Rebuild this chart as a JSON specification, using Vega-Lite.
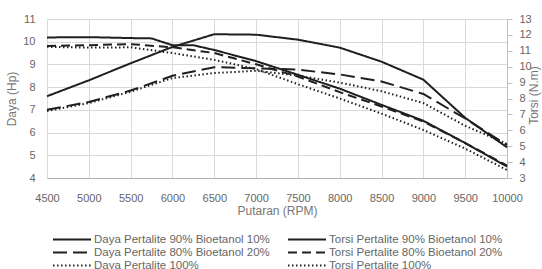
{
  "$schema": "https://vega.github.io/schema/vega-lite/v6.json",
  "width": 460,
  "height": 159,
  "autosize": {"type": "none"},
  "padding": {"left": 47, "top": 19, "right": 35, "bottom": 91},
  "config": {
    "font": "Liberation Sans",
    "view": {"stroke": null},
    "axis": {"labelColor": "#666666", "titleColor": "#777777", "labelFontSize": 11, "titleFontSize": 12, "titleFontWeight": "normal", "gridColor": "#d9d9d9", "domainColor": "#bfbfbf", "tickColor": "#bfbfbf"}
  },
  "data": {"values": [
    {"rpm": 4500, "v": 7.6, "s": "Daya Pertalite 90% Bioetanol 10%", "m": "Daya"},
    {"rpm": 5000, "v": 8.3, "s": "Daya Pertalite 90% Bioetanol 10%", "m": "Daya"},
    {"rpm": 5500, "v": 9.05, "s": "Daya Pertalite 90% Bioetanol 10%", "m": "Daya"},
    {"rpm": 6000, "v": 9.77, "s": "Daya Pertalite 90% Bioetanol 10%", "m": "Daya"},
    {"rpm": 6500, "v": 10.33, "s": "Daya Pertalite 90% Bioetanol 10%", "m": "Daya"},
    {"rpm": 7000, "v": 10.31, "s": "Daya Pertalite 90% Bioetanol 10%", "m": "Daya"},
    {"rpm": 7500, "v": 10.09, "s": "Daya Pertalite 90% Bioetanol 10%", "m": "Daya"},
    {"rpm": 8000, "v": 9.74, "s": "Daya Pertalite 90% Bioetanol 10%", "m": "Daya"},
    {"rpm": 8500, "v": 9.12, "s": "Daya Pertalite 90% Bioetanol 10%", "m": "Daya"},
    {"rpm": 9000, "v": 8.33, "s": "Daya Pertalite 90% Bioetanol 10%", "m": "Daya"},
    {"rpm": 9500, "v": 6.65, "s": "Daya Pertalite 90% Bioetanol 10%", "m": "Daya"},
    {"rpm": 10000, "v": 5.35, "s": "Daya Pertalite 90% Bioetanol 10%", "m": "Daya"},
    {"rpm": 4500, "v": 7.0, "s": "Daya Pertalite 80% Bioetanol 20%", "m": "Daya"},
    {"rpm": 5000, "v": 7.35, "s": "Daya Pertalite 80% Bioetanol 20%", "m": "Daya"},
    {"rpm": 5500, "v": 7.85, "s": "Daya Pertalite 80% Bioetanol 20%", "m": "Daya"},
    {"rpm": 6000, "v": 8.5, "s": "Daya Pertalite 80% Bioetanol 20%", "m": "Daya"},
    {"rpm": 6500, "v": 8.88, "s": "Daya Pertalite 80% Bioetanol 20%", "m": "Daya"},
    {"rpm": 7000, "v": 8.83, "s": "Daya Pertalite 80% Bioetanol 20%", "m": "Daya"},
    {"rpm": 7500, "v": 8.77, "s": "Daya Pertalite 80% Bioetanol 20%", "m": "Daya"},
    {"rpm": 8000, "v": 8.56, "s": "Daya Pertalite 80% Bioetanol 20%", "m": "Daya"},
    {"rpm": 8500, "v": 8.25, "s": "Daya Pertalite 80% Bioetanol 20%", "m": "Daya"},
    {"rpm": 9000, "v": 7.7, "s": "Daya Pertalite 80% Bioetanol 20%", "m": "Daya"},
    {"rpm": 9500, "v": 6.62, "s": "Daya Pertalite 80% Bioetanol 20%", "m": "Daya"},
    {"rpm": 10000, "v": 5.45, "s": "Daya Pertalite 80% Bioetanol 20%", "m": "Daya"},
    {"rpm": 4500, "v": 6.95, "s": "Daya Pertalite 100%", "m": "Daya"},
    {"rpm": 5000, "v": 7.3, "s": "Daya Pertalite 100%", "m": "Daya"},
    {"rpm": 5500, "v": 7.8, "s": "Daya Pertalite 100%", "m": "Daya"},
    {"rpm": 6000, "v": 8.4, "s": "Daya Pertalite 100%", "m": "Daya"},
    {"rpm": 6500, "v": 8.62, "s": "Daya Pertalite 100%", "m": "Daya"},
    {"rpm": 7000, "v": 8.72, "s": "Daya Pertalite 100%", "m": "Daya"},
    {"rpm": 7500, "v": 8.51, "s": "Daya Pertalite 100%", "m": "Daya"},
    {"rpm": 8000, "v": 8.2, "s": "Daya Pertalite 100%", "m": "Daya"},
    {"rpm": 8500, "v": 7.82, "s": "Daya Pertalite 100%", "m": "Daya"},
    {"rpm": 9000, "v": 7.3, "s": "Daya Pertalite 100%", "m": "Daya"},
    {"rpm": 9500, "v": 6.3, "s": "Daya Pertalite 100%", "m": "Daya"},
    {"rpm": 10000, "v": 5.5, "s": "Daya Pertalite 100%", "m": "Daya"},
    {"rpm": 4500, "v": 11.84, "s": "Torsi Pertalite 90% Bioetanol 10%", "m": "Torsi"},
    {"rpm": 5000, "v": 11.86, "s": "Torsi Pertalite 90% Bioetanol 10%", "m": "Torsi"},
    {"rpm": 5500, "v": 11.8, "s": "Torsi Pertalite 90% Bioetanol 10%", "m": "Torsi"},
    {"rpm": 5750, "v": 11.78, "s": "Torsi Pertalite 90% Bioetanol 10%", "m": "Torsi"},
    {"rpm": 6000, "v": 11.35, "s": "Torsi Pertalite 90% Bioetanol 10%", "m": "Torsi"},
    {"rpm": 6250, "v": 11.35, "s": "Torsi Pertalite 90% Bioetanol 10%", "m": "Torsi"},
    {"rpm": 6500, "v": 11.05, "s": "Torsi Pertalite 90% Bioetanol 10%", "m": "Torsi"},
    {"rpm": 7000, "v": 10.35, "s": "Torsi Pertalite 90% Bioetanol 10%", "m": "Torsi"},
    {"rpm": 7500, "v": 9.49, "s": "Torsi Pertalite 90% Bioetanol 10%", "m": "Torsi"},
    {"rpm": 8000, "v": 8.62, "s": "Torsi Pertalite 90% Bioetanol 10%", "m": "Torsi"},
    {"rpm": 8500, "v": 7.6, "s": "Torsi Pertalite 90% Bioetanol 10%", "m": "Torsi"},
    {"rpm": 9000, "v": 6.6, "s": "Torsi Pertalite 90% Bioetanol 10%", "m": "Torsi"},
    {"rpm": 9500, "v": 5.2, "s": "Torsi Pertalite 90% Bioetanol 10%", "m": "Torsi"},
    {"rpm": 10000, "v": 3.72, "s": "Torsi Pertalite 90% Bioetanol 10%", "m": "Torsi"},
    {"rpm": 4500, "v": 11.3, "s": "Torsi Pertalite 80% Bioetanol 20%", "m": "Torsi"},
    {"rpm": 5000, "v": 11.35, "s": "Torsi Pertalite 80% Bioetanol 20%", "m": "Torsi"},
    {"rpm": 5500, "v": 11.42, "s": "Torsi Pertalite 80% Bioetanol 20%", "m": "Torsi"},
    {"rpm": 6000, "v": 11.22, "s": "Torsi Pertalite 80% Bioetanol 20%", "m": "Torsi"},
    {"rpm": 6500, "v": 10.86, "s": "Torsi Pertalite 80% Bioetanol 20%", "m": "Torsi"},
    {"rpm": 7000, "v": 10.15, "s": "Torsi Pertalite 80% Bioetanol 20%", "m": "Torsi"},
    {"rpm": 7500, "v": 9.38, "s": "Torsi Pertalite 80% Bioetanol 20%", "m": "Torsi"},
    {"rpm": 8000, "v": 8.4, "s": "Torsi Pertalite 80% Bioetanol 20%", "m": "Torsi"},
    {"rpm": 8500, "v": 7.5, "s": "Torsi Pertalite 80% Bioetanol 20%", "m": "Torsi"},
    {"rpm": 9000, "v": 6.55, "s": "Torsi Pertalite 80% Bioetanol 20%", "m": "Torsi"},
    {"rpm": 9500, "v": 5.2, "s": "Torsi Pertalite 80% Bioetanol 20%", "m": "Torsi"},
    {"rpm": 10000, "v": 3.78, "s": "Torsi Pertalite 80% Bioetanol 20%", "m": "Torsi"},
    {"rpm": 4500, "v": 11.25, "s": "Torsi Pertalite 100%", "m": "Torsi"},
    {"rpm": 5000, "v": 11.2, "s": "Torsi Pertalite 100%", "m": "Torsi"},
    {"rpm": 5500, "v": 11.22, "s": "Torsi Pertalite 100%", "m": "Torsi"},
    {"rpm": 6000, "v": 10.86, "s": "Torsi Pertalite 100%", "m": "Torsi"},
    {"rpm": 6500, "v": 10.43, "s": "Torsi Pertalite 100%", "m": "Torsi"},
    {"rpm": 7000, "v": 9.85, "s": "Torsi Pertalite 100%", "m": "Torsi"},
    {"rpm": 7500, "v": 8.9, "s": "Torsi Pertalite 100%", "m": "Torsi"},
    {"rpm": 8000, "v": 8.0, "s": "Torsi Pertalite 100%", "m": "Torsi"},
    {"rpm": 8500, "v": 7.05, "s": "Torsi Pertalite 100%", "m": "Torsi"},
    {"rpm": 9000, "v": 6.02, "s": "Torsi Pertalite 100%", "m": "Torsi"},
    {"rpm": 9500, "v": 4.85, "s": "Torsi Pertalite 100%", "m": "Torsi"},
    {"rpm": 10000, "v": 3.5, "s": "Torsi Pertalite 100%", "m": "Torsi"}
  ]},
  "encoding": {
    "x": {"field": "rpm", "type": "quantitative", "scale": {"domain": [4500, 10000], "nice": false, "zero": false},
      "axis": {"title": "Putaran (RPM)", "values": [4500, 5000, 5500, 6000, 6500, 7000, 7500, 8000, 8500, 9000, 9500, 10000], "format": "d", "grid": true, "ticks": false, "labelOverlap": false, "labelFlush": false, "labelPadding": 14, "titlePadding": 2, "domainColor": "#b0b0b0"}},
    "strokeDash": {"field": "s", "type": "nominal",
      "scale": {"domain": ["Daya Pertalite 90% Bioetanol 10%", "Daya Pertalite 80% Bioetanol 20%", "Daya Pertalite 100%", "Torsi Pertalite 90% Bioetanol 10%", "Torsi Pertalite 80% Bioetanol 20%", "Torsi Pertalite 100%"],
        "range": [[1, 0], [14, 6], [1.5, 2.5], [1, 0], [9, 5], [1.5, 2.5]]},
      "legend": {"title": null, "orient": "none", "legendX": 5, "legendY": 214, "columns": 2, "columnPadding": 17, "rowPadding": 0, "symbolType": "stroke", "symbolSize": 1444, "clipHeight": 13, "symbolStrokeWidth": 2, "symbolStrokeColor": "#1f1f1f", "labelOffset": 2, "labelFontSize": 11.5, "labelColor": "#666666", "labelLimit": 300}}
  },
  "layer": [
    {
      "transform": [{"filter": "datum.m === 'Daya'"}],
      "mark": {"type": "line", "color": "#1f1f1f", "strokeWidth": 2},
      "encoding": {
        "y": {"field": "v", "type": "quantitative", "scale": {"domain": [4, 11], "nice": false, "zero": false},
          "axis": {"title": "Daya (Hp)", "values": [4, 5, 6, 7, 8, 9, 10, 11], "grid": true, "domain": false, "ticks": false, "labelPadding": 12, "titlePadding": 4}}
      }
    },
    {
      "transform": [{"filter": "datum.m === 'Torsi'"}],
      "mark": {"type": "line", "color": "#1f1f1f", "strokeWidth": 2},
      "encoding": {
        "y": {"field": "v", "type": "quantitative", "scale": {"domain": [3, 13], "nice": false, "zero": false},
          "axis": {"orient": "right", "title": "Torsi (N.m)", "values": [3, 4, 5, 6, 7, 8, 9, 10, 11, 12, 13], "grid": false, "domain": true, "ticks": true, "tickSize": 5, "labelPadding": 7, "titleAngle": -90, "titleX": 30, "titleY": 76, "titleAlign": "center", "titleBaseline": "alphabetic"}}
      }
    }
  ],
  "resolve": {"scale": {"y": "independent"}}
}
